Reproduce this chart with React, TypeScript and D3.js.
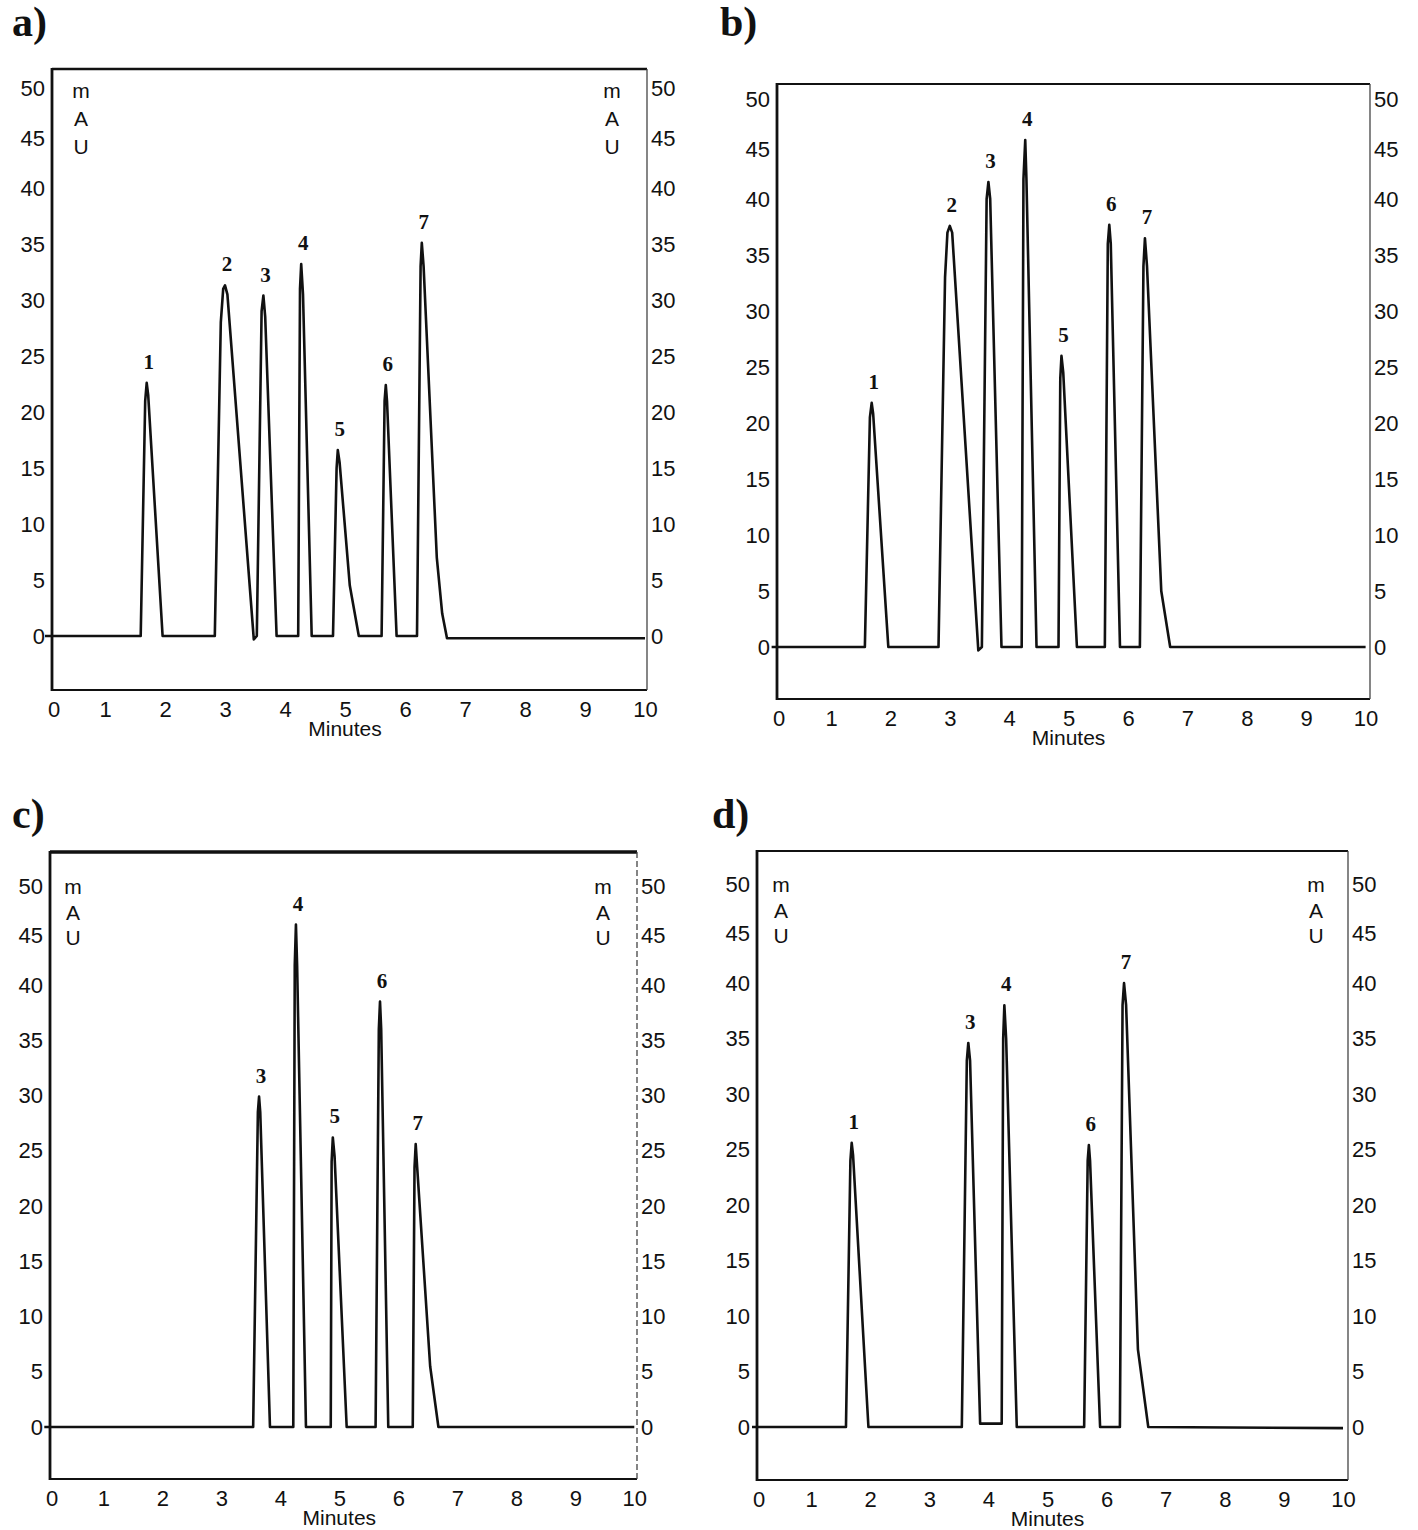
import { useEffect, useRef } from "react";
import * as d3 from "d3";

// axis ticks
const minuteTicks = [0, 1, 2, 3, 4, 5, 6, 7, 8, 9, 10];
const mauTicks = [0, 5, 10, 15, 20, 25, 30, 35, 40, 45, 50];

// a) trace (min / mAU), one line per peak
const aTime = [
    0,
    1.595, 1.67, 1.695, 1.72, 1.96,
    2.83, 2.93, 2.97, 3.0, 3.04, 3.48,
    3.53, 3.61, 3.64, 3.67, 3.86,
    4.22, 4.25, 4.27, 4.3, 4.445,
    4.8, 4.86, 4.88, 4.91, 5.08, 5.23,
    5.61, 5.66, 5.68, 5.7, 5.86,
    6.2, 6.26, 6.28, 6.31, 6.53, 6.62, 6.7,
    10,
];
const aMau = [
    0,
    0, 21, 22.6, 21.5, 0,
    0, 28, 31, 31.3, 30.5, -0.3,
    0, 29, 30.4, 28.5, 0,
    0, 31, 33.2, 30.5, 0,
    0, 15, 16.6, 15.5, 4.5, 0,
    0, 21, 22.4, 21, 0,
    0, 33, 35.1, 33, 7, 2, -0.2,
    -0.2,
];
const aPeakIds = ["1", "2", "3", "4", "5", "6", "7"];
const aPeakTimes = [1.695, 3.0, 3.64, 4.27, 4.88, 5.68, 6.28];

// b)
const bTime = [
    0,
    1.57, 1.655, 1.685, 1.71, 1.965,
    2.81, 2.92, 2.96, 3.0, 3.04, 3.48,
    3.54, 3.62, 3.65, 3.68, 3.87,
    4.21, 4.24, 4.27, 4.29, 4.46,
    4.83, 4.86, 4.88, 4.91, 5.14,
    5.61, 5.66, 5.685, 5.71, 5.865,
    6.2, 6.26, 6.285, 6.32, 6.56, 6.71,
    10,
];
const bMau = [
    0,
    0, 20.5, 21.8, 20.8, 0,
    0, 33, 37, 37.6, 37, -0.3,
    0, 40, 41.7, 40, 0,
    0, 42, 45.9, 42, 0,
    0, 24, 26, 24.5, 0,
    0, 36, 37.7, 36, 0,
    0, 34, 36.5, 34, 5, 0,
    0,
];
const bPeakIds = ["1", "2", "3", "4", "5", "6", "7"];
const bPeakTimes = [1.685, 3.0, 3.65, 4.27, 4.88, 5.685, 6.285];

// c)
const cTime = [
    0,
    3.54, 3.62, 3.64, 3.66, 3.825,
    4.22, 4.245, 4.265, 4.285, 4.435,
    4.855, 4.87, 4.89, 4.92, 5.125,
    5.615, 5.67, 5.69, 5.71, 5.83,
    6.245, 6.275, 6.295, 6.32, 6.54, 6.68,
    10,
];
const cMau = [
    0,
    0, 28.5, 29.9, 28.5, 0,
    0, 42, 46.1, 42, 0,
    0, 24, 26.2, 24.5, 0,
    0, 36, 38.5, 36, 0,
    0, 23.5, 25.6, 23.5, 5.5, 0,
    0,
];
const cPeakIds = ["3", "4", "5", "6", "7"];
const cPeakTimes = [3.64, 4.265, 4.89, 5.69, 6.295];

// d)
const dTime = [
    0,
    1.59, 1.665, 1.687, 1.71, 1.97,
    3.55, 3.635, 3.66, 3.69, 3.86,
    4.225, 4.25, 4.27, 4.3, 4.48,
    5.62, 5.68, 5.7, 5.72, 5.89,
    6.225, 6.27, 6.295, 6.33, 6.53, 6.705,
    10,
];
const dMau = [
    0,
    0, 24, 25.6, 24.5, 0,
    0, 33, 34.6, 33, 0.3,
    0.3, 35, 38, 35, 0,
    0, 24, 25.4, 24, 0,
    0, 38, 40, 38, 7, 0,
    -0.1,
];
const dPeakIds = ["1", "3", "4", "6", "7"];
const dPeakTimes = [1.687, 3.66, 4.27, 5.7, 6.295];

const SANS = "'Liberation Sans', Arial, Helvetica, sans-serif";
const SERIF = "'Liberation Serif', 'Times New Roman', serif";
const INK = "#111";

// layout of the four panels (pixel positions only)
const panels = [
    {
        tag: "a)", tagX: 12, tagY: 36, time: aTime, mau: aMau, ids: aPeakIds, peaks: aPeakTimes,
        box: [52, 69, 647, 690], xr: [45, 645], yr: [636, 188, 88],
        mauX: [81, 612], mauY: [90, 118, 146], topW: 2.5, rightDash: null,
    },
    {
        tag: "b)", tagX: 720, tagY: 36, time: bTime, mau: bMau, ids: bPeakIds, peaks: bPeakTimes,
        box: [777, 84, 1370, 699], xr: [771.6, 1365.6], yr: [647, 199, 99],
        mauX: null, mauY: null, topW: 2.2, rightDash: null,
    },
    {
        tag: "c)", tagX: 12, tagY: 828, time: cTime, mau: cMau, ids: cPeakIds, peaks: cPeakTimes,
        box: [50, 852, 637, 1479], xr: [44.3, 634.3], yr: [1427, 985, 886],
        mauX: [73, 603], mauY: [886, 912, 937], topW: 3.5, rightDash: "6,3",
    },
    {
        tag: "d)", tagX: 712, tagY: 828, time: dTime, mau: dMau, ids: dPeakIds, peaks: dPeakTimes,
        box: [757, 851, 1348, 1480], xr: [752, 1343], yr: [1427, 983, 884],
        mauX: [781, 1316], mauY: [884, 910, 935], topW: 2.2, rightDash: null,
    },
];

export default function App() {
    const svgRef = useRef<SVGSVGElement | null>(null);

    useEffect(() => {
        if (!svgRef.current) return;
        const svg = d3.select(svgRef.current);
        svg.selectAll("*").remove();

        panels.forEach((p) => {
            const [x0, y0, x1, y1] = p.box;
            const x = d3.scaleLinear().domain([0, 10]).range(p.xr);
            // the scale's top labels sit a bit closer together than the rest
            const y = d3.scaleLinear().domain([0, 40, 50]).range(p.yr);

            const g = svg.append("g");

            // panel tag
            g.append("text")
                .attr("x", p.tagX)
                .attr("y", p.tagY)
                .attr("font-family", SERIF)
                .attr("font-weight", "bold")
                .attr("font-size", 42)
                .attr("fill", INK)
                .text(p.tag);

            // tick labels
            const left = g.append("g")
                .attr("transform", `translate(${x0},0)`)
                .call(d3.axisLeft(y).tickValues(mauTicks).tickSize(0).tickPadding(7).tickFormat(d3.format("d")));
            const right = g.append("g")
                .attr("transform", `translate(${x1},0)`)
                .call(d3.axisRight(y).tickValues(mauTicks).tickSize(0).tickPadding(4).tickFormat(d3.format("d")));
            const bottom = g.append("g")
                .attr("transform", `translate(0,${y1})`)
                .call(d3.axisBottom(x).tickValues(minuteTicks).tickSize(0).tickPadding(11).tickFormat(d3.format("d")));

            // "0" is pushed inside the frame
            bottom.selectAll<SVGGElement, number>(".tick")
                .filter((d) => d === 0)
                .attr("transform", `translate(${Math.max(x(0), x0 + 2)},0)`);

            [left, right, bottom].forEach((a) => {
                a.select(".domain").remove();
                a.attr("font-family", SANS).attr("font-size", 22).attr("color", INK);
            });

            g.append("text")
                .attr("x", x(5))
                .attr("y", y1 + 46)
                .attr("text-anchor", "middle")
                .attr("font-family", SANS)
                .attr("font-size", 21)
                .attr("fill", INK)
                .text("Minutes");

            // frame
            g.append("line").attr("x1", x0).attr("x2", x1).attr("y1", y0).attr("y2", y0)
                .attr("stroke", INK).attr("stroke-width", p.topW);
            g.append("line").attr("x1", x0).attr("x2", x1).attr("y1", y1).attr("y2", y1)
                .attr("stroke", INK).attr("stroke-width", 2.2);
            g.append("line").attr("x1", x0).attr("x2", x0).attr("y1", y0 - 1).attr("y2", y1 + 1)
                .attr("stroke", INK).attr("stroke-width", 2.8);
            g.append("line").attr("x1", x1).attr("x2", x1).attr("y1", y0).attr("y2", y1)
                .attr("stroke", "#444").attr("stroke-width", 1.3)
                .attr("stroke-dasharray", p.rightDash);

            // mAU unit, written vertically on both sides
            if (p.mauX && p.mauY) {
                p.mauX.forEach((mx) => {
                    ["m", "A", "U"].forEach((ch, i) => {
                        g.append("text")
                            .attr("x", mx)
                            .attr("y", p.mauY![i])
                            .attr("text-anchor", "middle")
                            .attr("dominant-baseline", "central")
                            .attr("font-family", SANS)
                            .attr("font-size", 21)
                            .attr("fill", INK)
                            .text(ch);
                    });
                });
            }

            // chromatogram trace
            const pts: [number, number][] = p.time.map((t, i) => [t, p.mau[i]]);
            const line = d3.line<[number, number]>()
                .x((d) => x(d[0]))
                .y((d) => y(d[1]));
            g.append("path")
                .datum(pts)
                .attr("d", line)
                .attr("fill", "none")
                .attr("stroke", INK)
                .attr("stroke-width", 2.6)
                .attr("stroke-linejoin", "round");

            // peak numbers
            p.ids.forEach((id, i) => {
                const t = p.peaks[i];
                const h = d3.max(pts.filter((d) => Math.abs(d[0] - t) < 0.03), (d) => d[1]) ?? 0;
                g.append("text")
                    .attr("x", x(t) + 2)
                    .attr("y", y(h) - 14)
                    .attr("text-anchor", "middle")
                    .attr("font-family", SERIF)
                    .attr("font-weight", "bold")
                    .attr("font-size", 21)
                    .attr("fill", INK)
                    .text(id);
            });
        });
    }, []);

    return (
        <svg
            ref={svgRef}
            width={1418}
            height={1530}
            viewBox="0 0 1418 1530"
            style={{ position: "absolute", left: 0, top: 0, background: "#fff" }}
        />
    );
}
